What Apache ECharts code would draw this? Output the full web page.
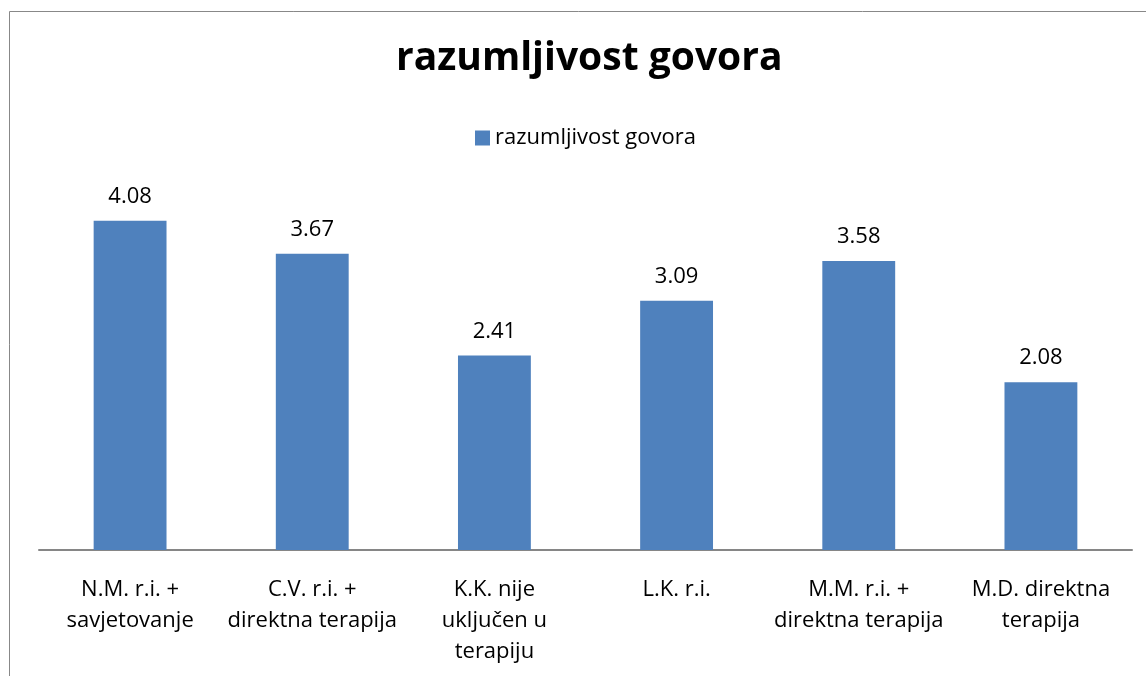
<!DOCTYPE html>
<html>
<head>
<meta charset="utf-8">
<script src="https://cdn.jsdelivr.net/npm/echarts@6/dist/echarts.min.js"></script>
<style>
  html, body { margin: 0; padding: 0; background: #fff; }
  #chart { width: 1146px; height: 676px; }
</style>
</head>
<body>
<div id="chart"></div>
<script>
var categories = [
    'N.M. r.i. +\nsavjetovanje',
    'C.V. r.i. +\ndirektna terapija',
    'K.K. nije\nuključen u\nterapiju',
    'L.K. r.i.',
    'M.M. r.i. +\ndirektna terapija',
    'M.D. direktna\nterapija'
];
var seriesName = 'razumljivost govora';
var values = [4.08, 3.67, 2.41, 3.09, 3.58, 2.08];

var font = 'Open Sans';
var myChart = echarts.init(document.getElementById('chart'));

myChart.setOption({
    animation: false,
    backgroundColor: '#fff',
    textStyle: { fontFamily: font },
    graphic: [{
        type: 'rect',
        shape: { x: 9.5, y: 11.5, width: 1300, height: 800 },
        style: { fill: 'none', stroke: '#888', lineWidth: 1 },
        silent: true
    }],
    title: {
        text: 'razumljivost govora',
        left: 391,
        top: 34,
        textStyle: { fontFamily: font, fontSize: 39, fontWeight: 'bold', color: '#000' }
    },
    legend: {
        top: 122,
        left: 470,
        itemWidth: 15,
        itemHeight: 15,
        itemGap: 10,
        icon: 'rect',
        textStyle: { fontFamily: font, fontSize: 22, color: '#000' },
        data: [seriesName]
    },
    grid: {
        left: 39,
        right: 14,
        top: 146.5,
        bottom: 126
    },
    xAxis: {
        type: 'category',
        data: categories,
        axisLine: { lineStyle: { color: '#868686', width: 2 } },
        axisTick: { show: false },
        axisLabel: {
            interval: 0,
            margin: 24,
            fontFamily: font,
            fontSize: 22,
            lineHeight: 31,
            color: '#000'
        }
    },
    yAxis: {
        type: 'value',
        min: 0,
        max: 5,
        show: false
    },
    series: [{
        name: seriesName,
        type: 'bar',
        data: values,
        barWidth: '40%',
        itemStyle: { color: '#4f81bd' },
        label: {
            show: true,
            position: 'top',
            distance: 13,
            fontFamily: font,
            fontSize: 22,
            color: '#000',
            formatter: function (p) { return p.value.toFixed(2); }
        }
    }]
});
</script>
</body>
</html>
